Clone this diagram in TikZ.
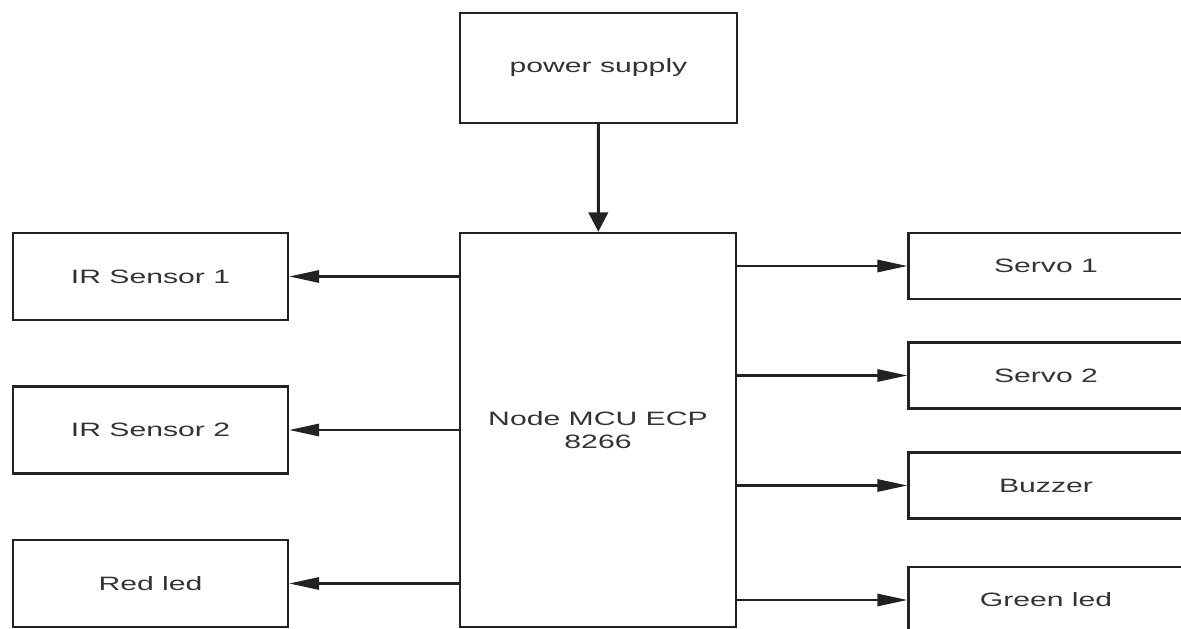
\documentclass[tikz,border=0pt]{standalone}
\usepackage{fontspec}
\setmainfont{Liberation Sans}[FakeStretch=1.56]
\usepackage{xcolor}
\usetikzlibrary{shapes,arrows.meta,positioning,calc}
\definecolor{linegray}{HTML}{222222}
\definecolor{textgray}{HTML}{333333}

\begin{document}
\begin{tikzpicture}[
    block/.style={rectangle, draw=linegray, line width=1.4pt, minimum width=5.5cm, text=textgray, align=center, font=\fontsize{11}{13}\selectfont},
    tall/.style={block, minimum height=1.74cm},
    short/.style={block, minimum height=1.32cm},
    sidelink/.style={draw=linegray, line width=1.2pt, -{Triangle[length=17pt, width=7pt]}},
    feedlink/.style={draw=linegray, line width=1.7pt, -{Triangle[length=11pt, width=11pt]}}
]
\useasboundingbox (0,0) rectangle (23.62,12.56);

% Supply and controller
\node[block, minimum width=5.54cm, minimum height=2.2cm] (psu) at (11.97, 11.2) {power supply};
\node[block, minimum width=5.52cm, minimum height=7.88cm] (mcu) at (11.96, 3.96) {Node MCU ECP\\8266};

% Inputs on the left
\node[tall] (ir1) at (3.01, 7.03) {IR Sensor 1};
\node[tall] (ir2) at (3.01, 3.96) {IR Sensor 2};
\node[tall] (redled) at (3.01, 0.89) {Red led};

% Outputs on the right
\node[short] (servo1) at (20.92, 7.24) {Servo 1};
\node[short] (servo2) at (20.92, 5.05) {Servo 2};
\node[short] (buzzer) at (20.92, 2.85) {Buzzer};
\node[short] (greenled) at (20.92, 0.56) {Green led};

\path (psu) edge[feedlink] (mcu);

\path (mcu.west |- ir1) edge[sidelink] (ir1.east)
    (mcu.west |- ir2) edge[sidelink] (ir2.east)
    (mcu.west |- redled) edge[sidelink] (redled.east)
    (mcu.east |- servo1) edge[sidelink] (servo1.west)
    (mcu.east |- servo2) edge[sidelink] (servo2.west)
    (mcu.east |- buzzer) edge[sidelink] (buzzer.west)
    (mcu.east |- greenled) edge[sidelink] (greenled.west);

\end{tikzpicture}
\end{document}
